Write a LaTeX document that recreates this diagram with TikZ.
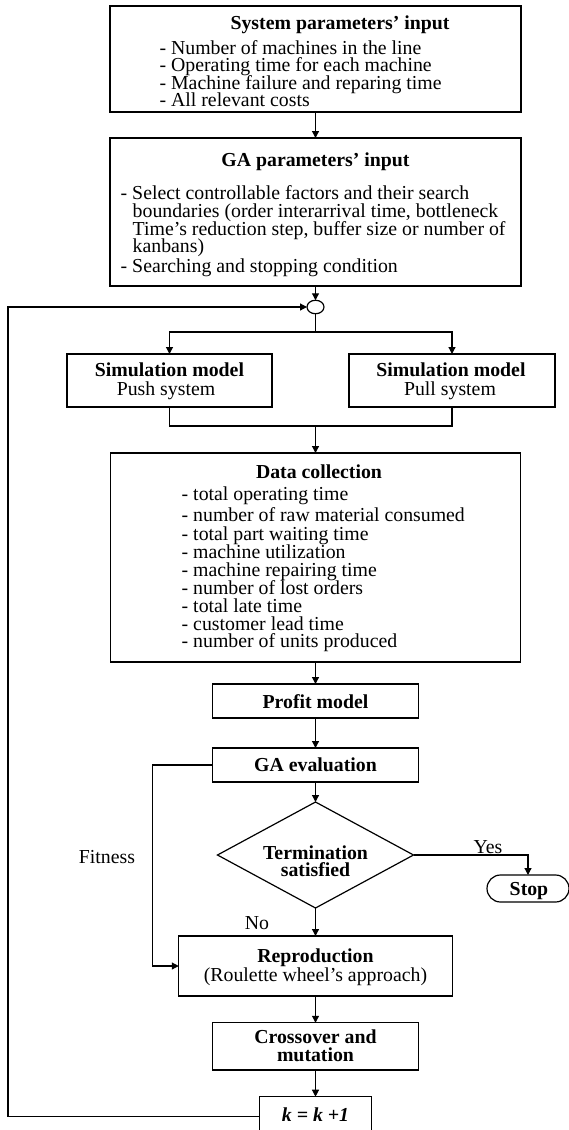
\documentclass[tikz,border=0pt]{standalone}
\usepackage{fontspec}
\setmainfont{Liberation Serif}
\usetikzlibrary{shapes.geometric,arrows.meta}
\newcommand\fs{\fontsize{19.8}{17.6}\selectfont}
\begin{document}
\begin{tikzpicture}[x=1pt,y=-1pt,
  bx/.style={draw, line width=1.2pt, inner sep=0pt, outer sep=0pt},
  arr/.style={line width=1.2pt, -{Triangle[length=7pt,width=7pt]}},
  ln/.style={line width=1.2pt},
  tx/.style={inner sep=0pt, outer sep=0pt, font=\fs, anchor=base},
  tb/.style={inner sep=0pt, outer sep=0pt, font=\fs\bfseries, anchor=base},
  tl/.style={inner sep=0pt, outer sep=0pt, font=\fs, anchor=base west},
]
\useasboundingbox (0,0) rectangle (569,1130);

% ---------- boxes ----------
\node[bx, minimum width=411pt, minimum height=106pt] (sys) at (315.5,59) {};
\node[bx, minimum width=411pt, minimum height=148pt] (ga) at (315.5,212) {};
\node[bx, ellipse, minimum width=17pt, minimum height=13.5pt] (circ) at (315.5,307) {};
\node[bx, minimum width=205pt, minimum height=53pt] (simL) at (169.5,380.5) {};
\node[bx, minimum width=206pt, minimum height=53pt] (simR) at (452,380.5) {};
\node[bx, minimum width=410pt, minimum height=209pt] (data) at (315.5,557.5) {};
\node[bx, minimum width=206pt, minimum height=34pt] (profit) at (315.5,701) {};
\node[bx, minimum width=206pt, minimum height=34pt] (gaeval) at (315.5,765) {};
\node[bx, diamond, minimum width=196pt, minimum height=106pt] (dia) at (315.5,855) {};
\node[bx, rounded corners=13.5pt, minimum width=82pt, minimum height=27pt] (stop) at (528,888.5) {};
\node[bx, minimum width=273.5pt, minimum height=60pt] (repro) at (315.5,966) {};
\node[bx, minimum width=206pt, minimum height=47.3pt] (cross) at (315.5,1046.4) {};
\node[bx, minimum width=111.5pt, minimum height=40pt] (kbox) at (315.5,1116.7) {};

% ---------- texts ----------
\node[tb] (sysT) at (340,29) {System parameters’ input};
\node[tl] (s1) at (159.6,54) {- Number of machines in the line};
\node[tl] (s2) at (159.6,71.5) {- Operating time for each machine};
\node[tl] (s3) at (159.6,89) {- Machine failure and reparing time};
\node[tl] (s4) at (159.6,106.5) {- All relevant costs};

\node[tb] (gaT) at (315.5,166) {GA parameters’ input};
\node[tl] (g1) at (120.7,199.5) {- Select controllable factors and their search};
\node[tl] (g2) at (132.7,217.5) {boundaries (order interarrival time, bottleneck};
\node[tl] (g3) at (132.7,235) {Time’s reduction step, buffer size or number of};
\node[tl] (g4) at (132.7,252.5) {kanbans)};
\node[tl] (g5) at (120.7,272) {- Searching and stopping condition};

\node[tb] (sLa) at (169.5,376) {Simulation model};
\node[tx] (sLb) at (166,395) {Push system};
\node[tb] (sRa) at (451,376) {Simulation model};
\node[tx] (sRb) at (450,395) {Pull system};

\node[tb] (dT) at (319,478) {Data collection};
\node[tl] (d1) at (181.7,500) {- total operating time};
\node[tl] (d2) at (181.7,521.7) {- number of raw material consumed};
\node[tl] (d3) at (181.7,540.3) {- total part waiting time};
\node[tl] (d4) at (181.7,558.3) {- machine utilization};
\node[tl] (d5) at (181.7,576) {- machine repairing time};
\node[tl] (d6) at (181.7,594.3) {- number of lost orders};
\node[tl] (d7) at (181.7,612) {- total late time};
\node[tl] (d8) at (181.7,630) {- customer lead time};
\node[tl] (d9) at (181.7,647.7) {- number of units produced};

\node[tb] (pT) at (315.5,708) {Profit model};
\node[tb] (eT) at (315.5,771.5) {GA evaluation};
\node[tb] (tT1) at (315.5,859) {Termination};
\node[tb] (tT2) at (315.5,876.5) {satisfied};
\node[tb] (stT) at (529,895.5) {Stop};
\node[tx] (yes) at (488,853) {Yes};
\node[tx] (no) at (257,929.5) {No};
\node[tx, anchor=base east] (fit) at (135,863) {Fitness};
\node[tb] (rT1) at (315.5,962.7) {Reproduction};
\node[tx] (rT2) at (315.5,981) {(Roulette wheel’s approach)};
\node[tb] (cT1) at (315.5,1043.7) {Crossover and};
\node[tb] (cT2) at (315.5,1061.7) {mutation};
\node[tx, font=\fs\bfseries\itshape] (kT) at (315.5,1121.5) {k = k +1};

% ---------- connectors ----------
\coordinate (j1) at (315.5,332);
\coordinate (j2) at (315.5,426);
\coordinate (lp) at (8,307);
\coordinate (fc) at (152.7,765);

\draw[arr] (sys.south) -- (ga.north);
\draw[arr] (ga.south) -- (circ.north);
\draw[ln] (circ.south) -- (j1);
\draw[arr] (j1) -| (simL.north);
\draw[arr] (j1) -| (simR.north);
\draw[ln] (simL.south) |- (j2);
\draw[ln] (simR.south) |- (j2);
\draw[arr] (j2) -- (data.north);
\draw[arr] (data.south) -- (profit.north);
\draw[arr] (profit.south) -- (gaeval.north);
\draw[arr] (gaeval.south) -- (dia.north);
\draw[arr] (dia.east) -| (stop.north);
\draw[arr] (dia.south) -- (repro.north);
\draw[arr] (gaeval.west) -- (fc) |- (repro.west);
\draw[arr] (repro.south) -- (cross.north);
\draw[arr] (cross.south) -- (kbox.north);
\draw[arr] (kbox.west) -| (lp) -- (circ.west);
\end{tikzpicture}
\end{document}
